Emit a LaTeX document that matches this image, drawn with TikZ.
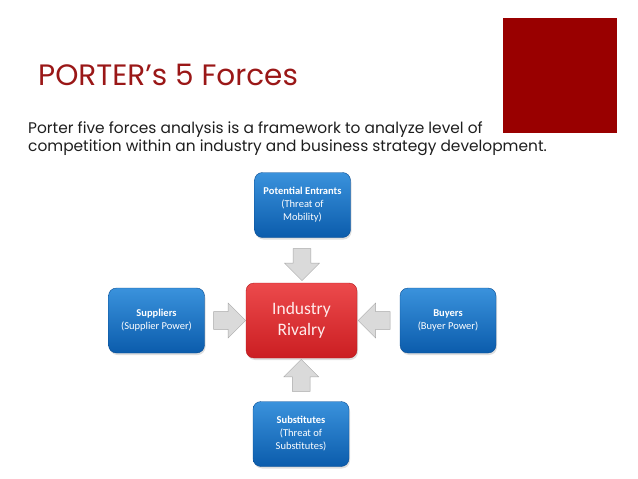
\documentclass[tikz,border=0pt]{standalone}
\usepackage{fontspec}
\setmainfont{Poppins}
\newfontfamily\boxfont{Carlito}
\usetikzlibrary{shapes.arrows,shadows,calc,positioning}
\definecolor{titlered}{HTML}{9A1717}
\definecolor{squarered}{HTML}{990000}
\definecolor{bluetop}{HTML}{3A92DC}
\definecolor{bluebot}{HTML}{0B5CAC}
\definecolor{blueedge}{HTML}{0A4E94}
\definecolor{redtop}{HTML}{EC4A4C}
\definecolor{redbot}{HTML}{CB1E22}
\definecolor{rededge}{HTML}{B51A1E}
\definecolor{arrowfill}{HTML}{DADADA}
\definecolor{arrowedge}{HTML}{A8A8A8}
\definecolor{bodytext}{HTML}{1E1E1E}
\tikzset{
  force/.style={draw=blueedge, rounded corners=8pt, top color=bluetop, bottom color=bluebot,
    minimum width=96pt, minimum height=65pt, align=center, text=white, inner sep=2pt,
    font=\boxfont\fontsize{10.5}{13}\selectfont,
    drop shadow={opacity=0.25, shadow xshift=1pt, shadow yshift=-2pt}},
  rival/.style={force, draw=rededge, top color=redtop, bottom color=redbot,
    minimum width=111pt, minimum height=75pt, text=red!8,
    font=\boxfont\fontsize{17.5}{21}\selectfont},
  push/.style={single arrow, draw=arrowedge, fill=arrowfill, inner xsep=0pt, inner ysep=8pt,
    minimum height=32pt, minimum width=35pt, single arrow head extend=8pt}
}
\begin{document}
\begin{tikzpicture}[x=1pt, y=-1pt]
    \useasboundingbox (0,0) rectangle (638,479);
    % header
    \fill[squarered] (503,18) rectangle (617,133);
    \node[anchor=base west, inner sep=0pt, text=titlered, font=\fontsize{29.5}{34}\selectfont] (title) at (38,85) {PORTER’s 5 Forces};
    \node[anchor=base west, inner sep=0pt, text=bodytext, font=\fontsize{15.4}{18}\selectfont] (body1) at (28,133) {Porter five forces analysis is a framework to analyze level of};
    \node[anchor=base west, inner sep=0pt, text=bodytext, font=\fontsize{15.4}{18}\selectfont] (body2) at (28,151) {competition within an industry and business strategy development.};
    % five forces
    \node[force] (entrants) at (302.5,205) {\textbf{Potential Entrants}\\(Threat of\\Mobility)};
    \node[force] (suppliers) at (156.5,320.5) {\textbf{Suppliers}\\(Supplier Power)};
    \node[rival] (rivalry) at (301.5,320.5) {Industry\\Rivalry};
    \node[force] (buyers) at (448,320.5) {\textbf{Buyers}\\(Buyer Power)};
    \node[force] (substitutes) at (301,434) {\textbf{Substitutes}\\(Threat of\\Substitutes)};
    \node[push, rotate=-90] (pushtop) at ($(entrants.south)!0.5!(rivalry.north)$) {};
    \node[push] (pushleft) at ($(suppliers.east)!0.5!(rivalry.west)$) {};
    \node[push, rotate=180] (pushright) at ($(buyers.west)!0.5!(rivalry.east)$) {};
    \node[push, rotate=90] (pushbottom) at ($(substitutes.north)!0.5!(rivalry.south)$) {};
\end{tikzpicture}
\end{document}
